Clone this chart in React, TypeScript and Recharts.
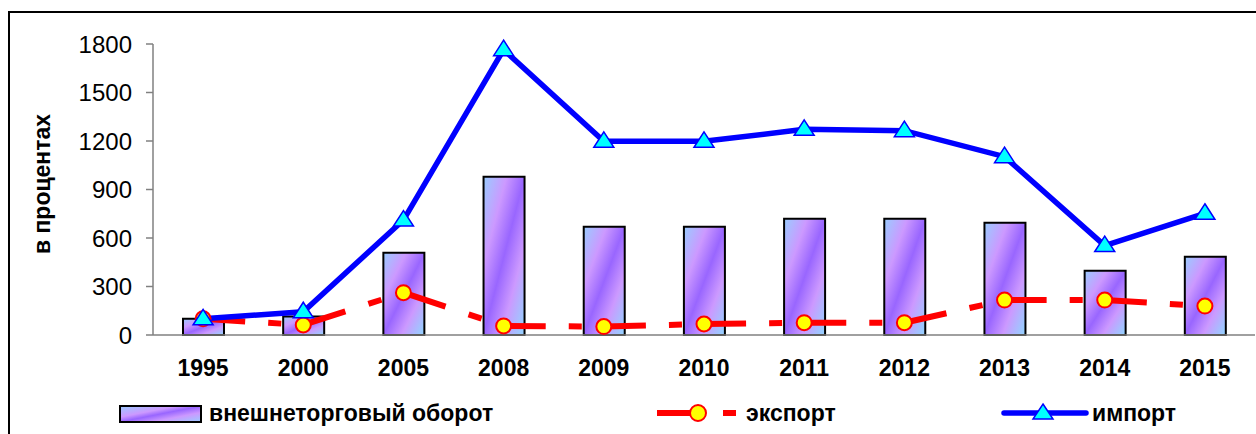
import React from "react";
import {
  ComposedChart,
  Bar,
  Line,
  XAxis,
  YAxis,
} from "recharts";

const years = ["1995", "2000", "2005", "2008", "2009", "2010", "2011", "2012", "2013", "2014", "2015"];
const turnover = [100, 115, 509, 979, 670, 670, 719, 719, 695, 398, 484];
const exportVals = [100, 62, 262, 56, 52, 68, 76, 76, 216, 216, 179];
const importVals = [100, 144, 711, 1765, 1198, 1198, 1272, 1264, 1103, 553, 753];
const yTicks = [0, 300, 600, 900, 1200, 1500, 1800];
const edgeTicks = [0, 1, 2, 3, 4, 5, 6, 7, 8, 9, 10, 11];

const FONT = "Arial, 'Liberation Sans', sans-serif";

// export line is split into segments so the dash pattern restarts at every point (like Excel)
const segKeys = years.slice(1).map((_, i) => `seg${i}`);

const data = years.map((year, i) => {
  const row: Record<string, number | string | null> = {
    year,
    turnover: turnover[i],
    exp: exportVals[i],
    imp: importVals[i],
  };
  segKeys.forEach((k, s) => {
    row[k] = s === i || s === i - 1 ? exportVals[i] : null;
  });
  return row;
});

const Triangle = (props: any) => {
  const { cx, cy } = props;
  if (cx == null || cy == null) return null;
  return (
    <path
      d={`M${cx},${cy - 9.5} L${cx + 10},${cy + 6} L${cx - 10},${cy + 6} Z`}
      fill="#00ffff"
      stroke="#0000ff"
      strokeWidth={1.5}
    />
  );
};

const LegendBox = () => (
  <svg width={1256} height={36} style={{ display: "block" }}>
    <defs>
      <linearGradient id="legGrad" x1="0" y1="0" x2="1" y2="1">
        <stop offset="0" stopColor="#99ccff" />
        <stop offset="0.35" stopColor="#cc99ff" />
        <stop offset="0.5" stopColor="#9966ff" />
        <stop offset="0.7" stopColor="#cc99ff" />
        <stop offset="1" stopColor="#99ccff" />
      </linearGradient>
    </defs>
    <rect x={120} y={11} width={81} height={16} fill="url(#legGrad)" stroke="#000" strokeWidth={2} />
    <text x={209} y={26} fontFamily={FONT} fontWeight="bold" fontSize={23} fill="#000">
      внешнеторговый оборот
    </text>
    <line x1={657} y1={18} x2={695} y2={18} stroke="#ff0000" strokeWidth={6} />
    <rect x={723} y={15} width={13} height={6} fill="#ff0000" />
    <circle cx={698} cy={18} r={8} fill="#ffff00" stroke="#ff0000" strokeWidth={2} />
    <text x={746} y={26} fontFamily={FONT} fontWeight="bold" fontSize={23} fill="#000">
      экспорт
    </text>
    <line x1={1004} y1={18} x2={1086} y2={18} stroke="#0000ff" strokeWidth={5.5} strokeLinecap="round" />
    <path d="M1043,9 L1053,24 L1033,24 Z" fill="#00ffff" stroke="#0000ff" strokeWidth={1.5} />
    <text x={1092} y={26} fontFamily={FONT} fontWeight="bold" fontSize={23} fill="#000">
      импорт
    </text>
  </svg>
);

export default function App() {
  return (
    <div style={{ position: "absolute", left: 0, top: 0, width: 1256, height: 434, background: "#fff" }}>
      <div
        style={{
          position: "absolute",
          left: 8,
          top: 11,
          width: 1248,
          height: 423,
          borderTop: "2px solid #000",
          borderLeft: "2px solid #000",
        }}
      />
      <div style={{ position: "absolute", left: 0, top: 0 }}>
        <ComposedChart
          width={1256}
          height={434}
          data={data}
          margin={{ top: 44, right: 1, bottom: 0, left: 0 }}
          barCategoryGap={0}
        >
          <defs>
            <linearGradient id="barGrad" x1="0" y1="0" x2="1" y2="1">
              <stop offset="0" stopColor="#99ccff" />
              <stop offset="0.28" stopColor="#cc99ff" />
              <stop offset="0.5" stopColor="#9966ff" />
              <stop offset="0.72" stopColor="#cc99ff" />
              <stop offset="0.95" stopColor="#99ccff" />
            </linearGradient>
          </defs>
          <XAxis
            dataKey="year"
            xAxisId="cat"
            height={99}
            axisLine={{ stroke: "#808080", strokeWidth: 1.5 }}
            tickLine={false}
            tickMargin={19}
            tick={{ fill: "#000", fontSize: 23, fontWeight: "bold", fontFamily: FONT }}
            interval={0}
          />
          <XAxis
            xAxisId="edge"
            type="number"
            domain={[0, 11]}
            ticks={edgeTicks}
            height={0}
            axisLine={false}
            tick={false}
            tickSize={8}
            tickLine={{ stroke: "#808080", strokeWidth: 1.5 }}
            orientation="bottom"
          />
          <YAxis
            domain={[0, 1800]}
            ticks={yTicks}
            width={153}
            axisLine={{ stroke: "#808080", strokeWidth: 1.5 }}
            tickLine={{ stroke: "#808080", strokeWidth: 1.5 }}
            tickSize={7}
            tickMargin={14}
            tick={{ fill: "#000", fontSize: 24, fontFamily: FONT }}
            label={{
              content: () => (
                <text
                  x={50}
                  y={184}
                  transform="rotate(-90 50 184)"
                  textAnchor="middle"
                  fontFamily={FONT}
                  fontWeight="bold"
                  fontSize={23}
                  fill="#000"
                >
                  в процентах
                </text>
              ),
            }}
          />
          <Bar
            dataKey="turnover"
            xAxisId="cat"
            barSize={41}
            fill="url(#barGrad)"
            stroke="#000"
            strokeWidth={2}
            isAnimationActive={false}
          />
          {segKeys.map((k) => (
            <Line
              key={k}
              dataKey={k}
              xAxisId="cat"
              type="linear"
              stroke="#ff0000"
              strokeWidth={6}
              strokeDasharray="42 23 13 22"
              pathLength={100}
              dot={false}
              activeDot={false}
              connectNulls={false}
              isAnimationActive={false}
            />
          ))}
          <Line
            dataKey="exp"
            xAxisId="cat"
            type="linear"
            stroke="none"
            dot={{ r: 7.5, fill: "#ffff00", stroke: "#ff0000", strokeWidth: 2 }}
            activeDot={false}
            isAnimationActive={false}
          />
          <Line
            dataKey="imp"
            xAxisId="cat"
            type="linear"
            stroke="#0000ff"
            strokeWidth={5.5}
            dot={<Triangle />}
            activeDot={false}
            isAnimationActive={false}
          />
        </ComposedChart>
      </div>
      <div style={{ position: "absolute", left: 0, top: 395 }}>
        <LegendBox />
      </div>
    </div>
  );
}
